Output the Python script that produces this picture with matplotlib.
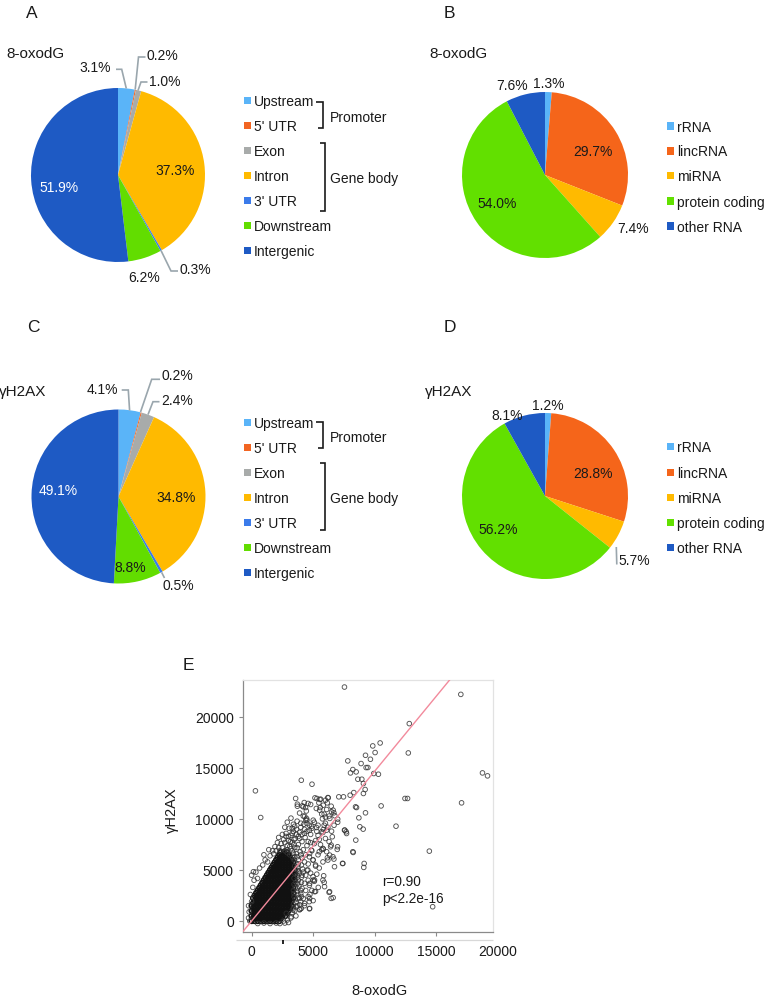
import matplotlib
matplotlib.use('Agg')
import matplotlib.pyplot as plt
from matplotlib.lines import Line2D
from matplotlib.patches import Rectangle

plt.rcParams['font.family'] = ['Liberation Sans', 'DejaVu Sans']

# ------------------------------------------------------------------ data
region_labels = ["Upstream", "5' UTR", "Exon", "Intron", "3' UTR", "Downstream", "Intergenic"]
region_colors = ["#5AB4F8", "#F26522", "#A8ABAA", "#FFBA00", "#3B7BEA", "#62DD00", "#1E5AC4"]
oxo_region_pct = [3.1, 0.2, 1.0, 37.3, 0.3, 6.2, 51.9]
h2ax_region_pct = [4.1, 0.2, 2.4, 34.8, 0.5, 8.8, 49.1]

rna_labels = ["rRNA", "lincRNA", "miRNA", "protein coding", "other RNA"]
rna_colors = ["#5AB4F8", "#F5651A", "#FFBA00", "#62E000", "#1E5AC4"]
oxo_rna_pct = [1.3, 29.7, 7.4, 54.0, 7.6]
h2ax_rna_pct = [1.2, 28.8, 5.7, 56.2, 8.1]

# scatter (8-oxodG vs gammaH2AX): dense core rows (y, x values)
core_rows = [
    (0, [0, 250, 500, 750, 1000, 1250, 1500, 1750, 2000, 2250]),
    (250, [125, 375, 625, 875, 1125, 1375, 1625, 1875, 2125, 2375]),
    (500, [0, 250, 500, 750, 1000, 1250, 1500, 1750, 2000, 2250, 2500, 2750]),
    (750, [125, 375, 625, 875, 1125, 1375, 1625, 1875, 2125, 2375, 2625, 2875]),
    (1000, [0, 250, 500, 750, 1000, 1250, 1500, 1750, 2000, 2250, 2500, 2750, 3000]),
    (1250, [125, 375, 625, 875, 1125, 1375, 1625, 1875, 2125, 2375, 2625, 2875, 3125]),
    (1500, [0, 250, 500, 750, 1000, 1250, 1500, 1750, 2000, 2250, 2500, 2750, 3000, 3250]),
    (1750, [125, 375, 625, 875, 1125, 1375, 1625, 1875, 2125, 2375, 2625, 2875, 3125]),
    (2000, [250, 500, 750, 1000, 1250, 1500, 1750, 2000, 2250, 2500, 2750, 3000, 3250]),
    (2250, [125, 375, 625, 875, 1125, 1375, 1625, 1875, 2125, 2375, 2625, 2875, 3125, 3375]),
    (2500, [250, 500, 750, 1000, 1250, 1500, 1750, 2000, 2250, 2500, 2750, 3000, 3250]),
    (2750, [375, 625, 875, 1125, 1375, 1625, 1875, 2125, 2375, 2625, 2875, 3125, 3375]),
    (3000, [500, 750, 1000, 1250, 1500, 1750, 2000, 2250, 2500, 2750, 3000, 3250]),
    (3250, [625, 875, 1125, 1375, 1625, 1875, 2125, 2375, 2625, 2875, 3125, 3375]),
    (3500, [750, 1000, 1250, 1500, 1750, 2000, 2250, 2500, 2750, 3000, 3250]),
    (3750, [875, 1125, 1375, 1625, 1875, 2125, 2375, 2625, 2875, 3125, 3375]),
    (4000, [1000, 1250, 1500, 1750, 2000, 2250, 2500, 2750, 3000, 3250, 3500]),
    (4250, [1125, 1375, 1625, 1875, 2125, 2375, 2625, 2875, 3125, 3375]),
    (4500, [1250, 1500, 1750, 2000, 2250, 2500, 2750, 3000, 3250, 3500]),
    (4750, [1375, 1625, 1875, 2125, 2375, 2625, 2875, 3125, 3375]),
    (5000, [1500, 1750, 2000, 2250, 2500, 2750, 3000, 3250, 3500]),
    (5250, [1625, 1875, 2125, 2375, 2625, 2875, 3125, 3375]),
    (5500, [1750, 2000, 2250, 2500, 2750, 3000, 3250]),
    (5750, [1875, 2125, 2375, 2625, 2875, 3125, 3375]),
    (6000, [2000, 2250, 2500, 2750, 3000, 3250]),
    (6250, [2125, 2375, 2625, 2875, 3125]),
    (6500, [2250, 2500, 2750, 3000]),
    (6750, [2375, 2625, 2875]),
]

mid_pts = [
    (3400, 1300), (3600, 1800), (3900, 1600), (3450, 2400), (3750, 2600), (4050, 2400), (3400, 3000),
    (3700, 3200), (4000, 3000), (3450, 3600), (3750, 3700), (4050, 3800), (3450, 4200), (3750, 4300),
    (4100, 4500), (3500, 4700), (3800, 4900), (4150, 5100), (3500, 5400), (3800, 5600), (3450, 6000),
    (3700, 6300), (4000, 6500), (3400, 6650), (3200, 7100), (3450, 7500), (3700, 7200), (2900, 7400),
    (3150, 7800), (3450, 8000), (3000, 8300), (3300, 8600), (2600, 8000), (2800, 8300), (2400, 7600),
    (2200, 7200), (2000, 6900), (1800, 6600), (2700, 6900), (2900, 6700), (3100, 6500), (3350, 6200),
    (3650, 8500), (3900, 8100), (4100, 8500), (4300, 8600), (4500, 8800), (4000, 9200), (4250, 9500),
    (3500, 9300), (3300, 9100), (2700, -200), (2300, -250), (1500, -250), (500, -250), (1000, -200),
    (2000, -200), (3000, -150),
]

fringe_pts = [
    (3500, 1000), (3400, 1600), (3700, 1500), (3550, 2100), (3800, 2300), (3450, 2700), (3700, 2900),
    (4000, 2700), (3550, 3300), (3850, 3400), (4100, 3200), (3600, 3800), (3800, 4000), (4050, 4300),
    (3700, 4500), (3900, 4700), (4200, 4800), (3700, 5000), (3750, 5300), (4050, 5500), (3600, 5700),
    (3800, 6000), (4100, 6200), (3500, 6300), (3650, 6600), (3950, 6800), (3300, 6900), (3500, 7200),
    (3800, 7500), (3100, 7300), (2900, 7000), (3300, 7700), (3000, 7900), (3550, 8100), (3200, 8400),
    (3800, 8300), (3400, 8800), (3050, 9100), (3650, 9000), (3900, 8700), (2800, 8600), (2700, 7700),
    (2500, 7200), (2300, 6900), (4300, 5800), (4400, 6500), (4200, 7000), (4500, 7400), (4100, 7800),
    (4350, 8200), (4600, 7800), (4300, 9000), (4000, 9600), (4500, 9900), (3700, 9800), (4200, 10300),
    (3900, 10600), (4450, 10800), (4700, 9400), (4800, 8500), (4900, 6900), (4700, 6300), (5000, 6000),
    (4600, 5600), (4500, 5000), (4400, 4500), (4800, 4700), (4600, 4000), (4300, 3700), (4700, 3500),
    (4400, 3000), (4900, 3000), (4200, 2200), (4600, 2400), (4000, 1900), (4300, 1500), (3900, 1100),
    (3600, 500), (3200, 300), (2900, 100), (2600, 0), (3300, 800), (4700, 1200), (5000, 2000),
    (5200, 2900), (5100, 3900), (5300, 4600), (5500, 5200), (5200, 5500), (5800, 5800), (5400, 6500),
    (5700, 7000), (5100, 7600), (5500, 8000), (5300, 8800), (4900, 9100), (5100, 9700), (5800, 8700),
    (5900, 9400), (6200, 9200), (6000, 10200), (5700, 10500),
    (4310, 10290), (4400, 9900), (4500, 9575), (5530, 10880), (5900, 10500), (6300, 10300), (7000, 10000),
    (7550, 8920), (7690, 8760), (8230, 6800), (5800, 7120), (6470, 7450), (6610, 6310), (6200, 5980),
    (7420, 5650), (6740, 5330), (5200, 5390), (4720, 6630), (4850, 6960), (4990, 5980), (4580, 5000),
    (4990, 4350), (5120, 4020), (4720, 3690), (5800, 4020), (5930, 3370), (6340, 2880), (6470, 2220),
    (5120, 2880), (4720, 2220), (3900, 2220), (4040, 1240), (4720, 1240), (3360, 1080), (3640, 1410),
    (4310, 1730), (3230, 420), (2820, 750),
    (0, 1900), (-100, 2600), (100, 3300), (200, 4000), (0, 4500), (350, 4800), (480, 4180), (150, 4840),
    (650, 5200), (900, 5500), (1100, 6000), (1300, 5800), (1500, 6400), (1700, 6900), (1900, 7300),
    (2100, 7700), (2200, 8200), (2500, 8500), (2700, 9200), (2900, 9700), (3200, 10100), (3400, 9500),
    (1000, 6500), (1400, 7000), (-200, 900), (-250, 300), (-250, 1500), (-150, 0),
    (5400, 8400), (6000, 8100), (6300, 7800), (5200, 7900), (4800, 7700), (5600, 7500), (6100, 6800),
    (5500, 6800), (4700, 8900), (6700, 9400), (7000, 9700), (6000, 9600), (5400, 9400),
]

outlier_pts = [
    (7550, 22970), (311, 12780), (4040, 13820), (4910, 13430), (3580, 12030), (3720, 11270), (4120, 11300),
    (4390, 11140), (4800, 11440), (5310, 12030), (5610, 11960), (6200, 12120), (6470, 11270), (7090, 12190),
    (7470, 12190), (8010, 12350), (8310, 12610), (8450, 11210), (7820, 15720), (8230, 14870), (8040, 14540),
    (8500, 14640), (8640, 13920), (8960, 13920), (8900, 15460), (9260, 16270), (9310, 15065), (9090, 13500),
    (9230, 12910), (9090, 12520), (5580, 11140), (5260, 11050),
    (17010, 22250), (12820, 19380), (12740, 16500), (10450, 17480), (9850, 17190), (10040, 16540),
    (9660, 15880), (9450, 15070), (9930, 14480), (10310, 14410), (18770, 14540), (19180, 14250),
    (12470, 12030), (12680, 12030), (10530, 11300), (17070, 11600),
    (11740, 9310), (14450, 6860), (14720, 1400), (740, 10160),
    (5150, 12090), (5550, 11930), (6010, 11860), (6150, 11600), (5470, 11600), (6230, 12090), (6500, 10720),
    (6630, 10880), (5830, 11370), (6100, 10950), (6690, 10620), (6360, 10070), (6770, 10330), (5760, 10030),
    (5010, 9900), (4880, 9310), (5280, 9180), (5830, 8990), (6100, 8920), (5690, 8760), (6500, 8820),
    (6560, 8270), (4470, 10070), (4200, 11210), (3720, 11470), (4280, 11630), (4590, 11540),
    (9260, 10620), (8530, 11140), (8720, 10130), (8800, 9250), (9070, 9020), (7580, 8920), (7720, 8590),
    (8470, 7940), (8260, 6730), (9150, 5650), (9120, 5260), (7390, 5650), (6990, 7290), (6960, 7030),
    (6690, 6080), (5830, 7060), (6420, 7290), (6350, 6470), (6160, 6210), (5860, 4440), (5900, 3790),
    (6300, 2810), (6630, 2290), (5420, 3300), (5010, 4020), (4740, 2610), (4690, 1900), (3930, 1140),
]

reg_slope = 1.47
reg_intercept = 0.0
corr_text = "r=0.90\np<2.2e-16"

x_ticks = [0, 5000, 10000, 15000, 20000]
y_ticks = [0, 5000, 10000, 15000, 20000]

# ------------------------------------------------------------------ figure
W, H = 767, 998
fig = plt.figure(figsize=(W / 100, H / 100), dpi=100)
TXT = '#1a1a1a'
LEAD = '#9AA6AD'


def fx(x):
    return x / W


def fy(y):
    return 1 - y / H


def ftext(x, y, s, **kw):
    kw.setdefault('color', TXT)
    kw.setdefault('fontsize', 10)
    fig.text(fx(x), fy(y), s, **kw)


def fline(pts, color=TXT, lw=1.2):
    fig.add_artist(Line2D([fx(p[0]) for p in pts], [fy(p[1]) for p in pts],
                          transform=fig.transFigure, color=color, lw=lw,
                          solid_capstyle='butt', solid_joinstyle='miter'))


def pie_panel(cx, cy, r, values, colors):
    ax = fig.add_axes([fx(cx - r), fy(cy + r), 2 * r / W, 2 * r / H])
    ax.pie(values, colors=colors, startangle=90, counterclock=False, radius=1,
           wedgeprops=dict(linewidth=0))
    ax.set_xlim(-1, 1)
    ax.set_ylim(-1, 1)
    ax.axis('off')
    return ax


def legend(x_sq, y_list, labels, colors):
    for y, lab, c in zip(y_list, labels, colors):
        fig.add_artist(Rectangle((fx(x_sq), fy(y + 3.6)), 7.2 / W, 7.2 / H,
                                 transform=fig.transFigure, color=c, lw=0))
        ftext(x_sq + 10, y, lab, ha='left', va='center_baseline')


def pct(v):
    return f"{v:.1f}%"


# ---------------- Panel A
pie_panel(118, 175, 87, oxo_region_pct, region_colors)
ftext(32, 12, 'A', fontsize=12.5, ha='center', va='center_baseline')
ftext(6, 52, '8-oxodG', fontsize=11, ha='left', va='center_baseline')
posA = [(95, 66), (162.5, 54.5), (164.5, 80), (175.5, 169.5), (195.5, 268.5), (143.8, 277), (59.5, 187)]
for i, (v, p) in enumerate(zip(oxo_region_pct, posA)):
    ftext(p[0], p[1], pct(v), ha='center', va='center_baseline',
          color='white' if i == 6 else TXT)
fline([(116, 69.3), (121.7, 69.3), (126.3, 88.5)], color=LEAD)
fline([(145.5, 57), (138.5, 57), (135.2, 89.5)], color=LEAD)
fline([(147.5, 82), (141, 82), (138, 90.5)], color=LEAD)
fline([(161, 250.5), (171, 271), (178, 271)], color=LEAD)
legA = [100.2 + 25.1 * i for i in range(7)]
legend(244, legA, region_labels, region_colors)
fline([(315.5, 102.3), (323.3, 102.3), (323.3, 127.7), (318.3, 127.7)])
ftext(330, 116, 'Promoter', ha='left', va='center_baseline')
fline([(320, 143.3), (325, 143.3), (325, 210.7), (320, 210.7)])
ftext(330, 177, 'Gene body', ha='left', va='center_baseline')

# ---------------- Panel B
pie_panel(545, 175, 83, oxo_rna_pct, rna_colors)
ftext(449, 12, 'B', fontsize=12.5, ha='center', va='center_baseline')
ftext(429, 52, '8-oxodG', fontsize=11, ha='left', va='center_baseline')
posB = [(548.3, 82), (592.7, 151), (633.3, 227.5), (496.7, 202.5), (511.7, 84.5)]
for v, p in zip(oxo_rna_pct, posB):
    ftext(p[0], p[1], pct(v), ha='center', va='center_baseline')
legB = [126, 151, 175.8, 201, 226]
legend(666.7, legB, rna_labels, rna_colors)

# ---------------- Panel C
pie_panel(118.5, 496.5, 87, h2ax_region_pct, region_colors)
ftext(33, 325.5, 'C', fontsize=12.5, ha='center', va='center_baseline')
ftext(-1, 390.5, 'γH2AX', fontsize=11, ha='left', va='center_baseline')
posC = [(102.8, 388.5), (177.2, 374.3), (177.2, 399.3), (175.8, 496), (178, 584.5), (130.5, 566), (57.8, 489.3)]
for i, (v, p) in enumerate(zip(h2ax_region_pct, posC)):
    ftext(p[0], p[1], pct(v), ha='center', va='center_baseline',
          color='white' if i == 6 else TXT)
fline([(121.7, 390), (128.3, 390), (129.6, 410.5)], color=LEAD)
fline([(160, 379.3), (151.7, 379.3), (140.5, 412)], color=LEAD)
fline([(159.5, 401.7), (153, 401.7), (148, 414.6)], color=LEAD)
fline([(161.6, 572.3), (164.5, 578)], color=LEAD)
legC = [422.7 + 25.0 * i for i in range(7)]
legend(244, legC, region_labels, region_colors)
fline([(315.5, 421.7), (323.3, 421.7), (323.3, 448.3), (318.3, 448.3)])
ftext(330, 437, 'Promoter', ha='left', va='center_baseline')
fline([(320, 463.3), (325, 463.3), (325, 530), (320, 530)])
ftext(330, 498, 'Gene body', ha='left', va='center_baseline')

# ---------------- Panel D
pie_panel(545, 496, 83, h2ax_rna_pct, rna_colors)
ftext(450, 325.5, 'D', fontsize=12.5, ha='center', va='center_baseline')
ftext(425, 390.5, 'γH2AX', fontsize=11, ha='left', va='center_baseline')
posD = [(548.3, 404.5), (592.7, 472.5), (634, 559.5), (498.3, 528.5), (506.7, 414.5)]
for v, p in zip(h2ax_rna_pct, posD):
    ftext(p[0], p[1], pct(v), ha='center', va='center_baseline')
fline([(616.3, 547), (616.8, 564.5)], color=LEAD)
legD = [446.7, 472.3, 497.3, 522.7, 547.7]
legend(666.7, legD, rna_labels, rna_colors)

# ---------------- Panel E (scatter)
cx_, cy_ = [], []
for y, xs in core_rows:
    for x in xs:
        cx_.append(x)
        cy_.append(y)
ox_ = [p[0] for p in mid_pts + fringe_pts + outlier_pts]
oy_ = [p[1] for p in mid_pts + fringe_pts + outlier_pts]

axE = fig.add_axes([fx(242.5), fy(932), (492.5 - 242.5) / W, (932 - 680) / H])
axE.scatter(cx_, cy_, s=12, facecolors='none', edgecolors='#111111', linewidths=1.1,
            zorder=2)
axE.scatter(ox_, oy_, s=11, facecolors='none', edgecolors='#333333', linewidths=0.65,
            alpha=0.85, zorder=2)
axE.axline((0, reg_intercept), slope=reg_slope, color='#F28A9C', lw=1.0, zorder=3)
axE.set_xlim(-740, 19585)
axE.set_ylim(-1080, 23662)
axE.set_xticks([t for t in x_ticks if t <= 19585])
axE.set_yticks(y_ticks)
axE.set_xticklabels([str(t) for t in x_ticks if t <= 19585])
axE.set_yticklabels([str(t) for t in y_ticks])
axE.tick_params(axis='x', direction='out', length=2.6, width=0.8, color='#8a8a8a',
                pad=7, labelsize=10, labelcolor=TXT)
axE.tick_params(axis='y', direction='out', length=2.6, width=0.8, color='#8a8a8a',
                pad=3.6, labelsize=10, labelcolor=TXT)
for t in x_ticks:
    if t > 19585:
        axE.text(t, -0.053, str(t), transform=axE.get_xaxis_transform(), ha='center',
                 va='top', fontsize=10, color=TXT, clip_on=False)
for side in ['left', 'bottom']:
    axE.spines[side].set_color('#8a8a8a')
    axE.spines[side].set_linewidth(0.9)
for side in ['top', 'right']:
    axE.spines[side].set_color('#e2e2e2')
    axE.spines[side].set_linewidth(0.9)
axE.text(10650, 2980, corr_text, fontsize=9.8, color=TXT, ha='left', va='center',
         linespacing=1.25)

fline([(236, 940), (493, 940)], color='#d8d8d8', lw=0.9)
fline([(282.7, 940), (282.7, 943.5)], color='#111111', lw=1.3)
ftext(188, 663.5, 'E', fontsize=12.5, ha='center', va='center_baseline')
ftext(172, 810, 'γH2AX', fontsize=10.5, ha='center', va='center', rotation=90)
ftext(380, 989.5, '8-oxodG', fontsize=10.5, ha='center', va='center_baseline')

fig.savefig('out.png', dpi=100)
